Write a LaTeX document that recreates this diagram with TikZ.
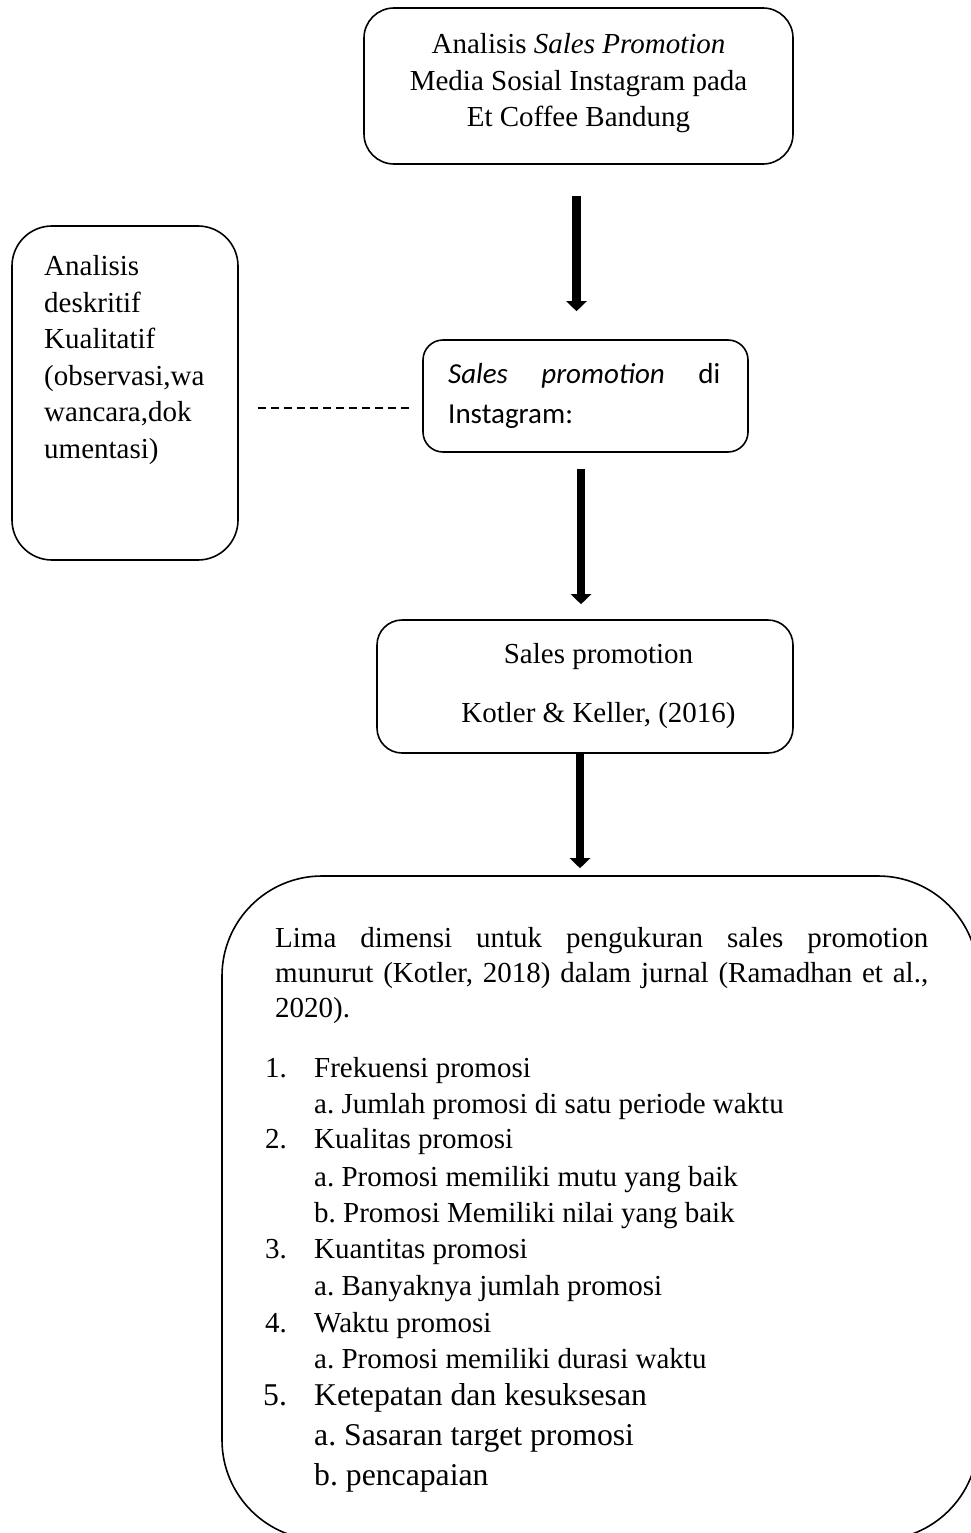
\documentclass[tikz,border=0pt]{standalone}
\usepackage{fontspec}
\setmainfont{Liberation Serif}
\newfontfamily\calfont{Carlito}
\usetikzlibrary{arrows.meta}
\frenchspacing
\tikzset{
  box/.style={draw, line width=1.6pt, inner sep=0pt},
  txt/.style={inner sep=0pt, font=\fontsize{29}{36.5}\selectfont},
  bigtxt/.style={inner sep=0pt, font=\fontsize{31.7}{40}\selectfont},
  bigarrow/.style={line width=8.5pt, -{Triangle[width=20pt,length=10pt]}},
  dashline/.style={line width=1.2pt, dash pattern=on 8pt off 5pt},
}
\begin{document}
\frenchspacing
\begin{tikzpicture}[x=1pt,y=-1pt]
\useasboundingbox (0,0) rectangle (970,1533);
\fill[white] (0,0) rectangle (970,1533);

% boxes
\node[box, rounded corners=30pt, minimum width=429pt, minimum height=156pt] (b1) at (578.5,86) {};
\node[box, rounded corners=40pt, minimum width=226pt, minimum height=334pt] (b2) at (125,393) {};
\node[box, rounded corners=20pt, minimum width=325pt, minimum height=112pt] (b3) at (585.5,396) {};
\node[box, rounded corners=25pt, minimum width=416pt, minimum height=133pt] (b4) at (585,686.5) {};
\node[box, rounded corners=100pt, minimum width=756pt, minimum height=664pt] (b5) at (600,1208) {};

% texts
\node[txt, align=center, anchor=north] (t1) at (578.5,33.2)
  {Analisis \textit{Sales Promotion}\\Media Sosial Instagram pada\\Et Coffee Bandung};
\node[txt, align=left, anchor=north west, font=\fontsize{29}{36.6}\selectfont] (t2) at (44,255.2)
  {Analisis\\deskritif\\Kualitatif\\(observasi,wa\\wancara,dok\\umentasi)};
\node[inner sep=0pt, align=left, anchor=north west, font=\calfont\fontsize{29}{40}\selectfont] (t3) at (448,363)
  {\hbox to 272pt{\textit{Sales}\hfill\textit{promotion}\hfill di}\\Instagram:};
\node[txt, align=center, anchor=north, font=\fontsize{29}{59}\selectfont] (t4) at (598.5,643.2)
  {Sales promotion\\Kotler \& Keller, (2016)};

\node[txt, align=left, anchor=north west, font=\fontsize{29}{35}\selectfont] (tp) at (275,927.2)
  {\makebox[653pt][s]{Lima dimensi untuk pengukuran sales promotion}\\
   \makebox[653pt][s]{munurut (Kotler, 2018) dalam jurnal (Ramadhan et al.,}\\
   2020).};

\node[txt, anchor=base west] (l1) at (265,1077) {\makebox[49pt][l]{1.}Frekuensi promosi};
\node[txt, anchor=base west] (l2) at (314,1113) {a. Jumlah promosi di satu periode waktu};
\node[txt, anchor=base west] (l3) at (265,1148) {\makebox[49pt][l]{2.}Kualitas promosi};
\node[txt, anchor=base west] (l4) at (314,1186) {a. Promosi memiliki mutu yang baik};
\node[txt, anchor=base west] (l5) at (314,1222) {b. Promosi Memiliki nilai yang baik};
\node[txt, anchor=base west] (l6) at (265,1258) {\makebox[49pt][l]{3.}Kuantitas promosi};
\node[txt, anchor=base west] (l7) at (314,1295) {a. Banyaknya jumlah promosi};
\node[txt, anchor=base west] (l8) at (265,1332) {\makebox[49pt][l]{4.}Waktu promosi};
\node[txt, anchor=base west] (l9) at (314,1368) {a. Promosi memiliki durasi waktu};
\node[bigtxt, anchor=base west] (l10) at (263,1405) {\makebox[51pt][l]{5.}Ketepatan dan kesuksesan};
\node[bigtxt, anchor=base west] (l11) at (314,1445) {a. Sasaran target promosi};
\node[bigtxt, anchor=base west] (l12) at (314,1485) {b. pencapaian};

% connectors
\coordinate (ax1) at (576.5,0);
\coordinate (ax2) at (581,0);
\coordinate (ax3) at (580,0);
\coordinate (dy) at (0,408);
\draw[bigarrow, shorten <=31pt, shorten >=28pt] (b1.south -| ax1) -- (b3.north -| ax1);
\draw[bigarrow, shorten <=16pt, shorten >=15pt] (b3.south -| ax2) -- (b4.north -| ax2);
\draw[bigarrow, shorten <=0pt, shorten >=7pt] (b4.south -| ax3) -- (b5.north -| ax3);
\draw[dashline, shorten <=19pt, shorten >=11pt] (b2.east |- dy) -- (b3.west |- dy);
\end{tikzpicture}
\end{document}
